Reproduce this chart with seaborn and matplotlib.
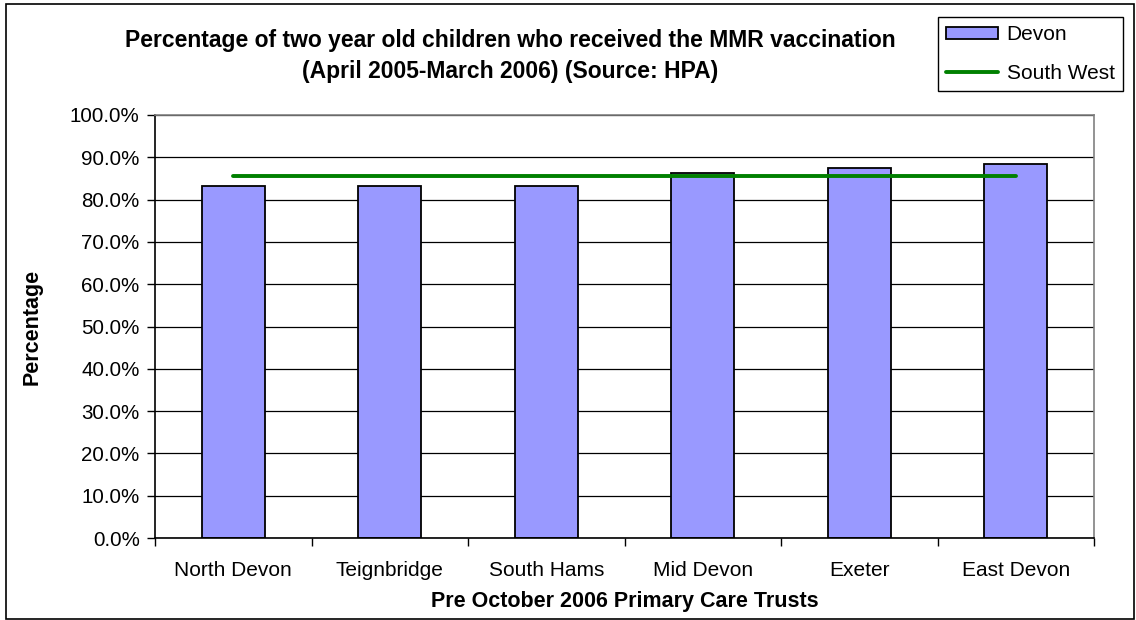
import matplotlib.pyplot as plt
import seaborn as sns
from matplotlib.ticker import PercentFormatter, FixedLocator
from matplotlib.patches import Rectangle

# values
trusts = ["North Devon", "Teignbridge", "South Hams", "Mid Devon", "Exeter", "East Devon"]
devon = [83.3, 83.3, 83.2, 86.2, 87.5, 88.5]
south_west = [85.6, 85.6, 85.6, 85.6, 85.6, 85.6]
y_ticks = [0, 10, 20, 30, 40, 50, 60, 70, 80, 90, 100]

sns.set_style("white")
plt.rcParams['font.family'] = ['Liberation Sans', 'DejaVu Sans']
plt.rcParams['text.color'] = 'black'
plt.rcParams['axes.labelcolor'] = 'black'
plt.rcParams['xtick.color'] = 'black'
plt.rcParams['ytick.color'] = 'black'

W, H = 1136, 620
fig = plt.figure(figsize=(W / 100, H / 100), dpi=100)
ax = fig.add_axes([155 / W, 1 - 538 / H, (1094 - 155) / W, (538 - 115) / H])

ax.set_axisbelow(True)
ax.yaxis.grid(True, color='black', linewidth=0.9)

sns.barplot(x=trusts, y=devon, color='#9999FF', edgecolor='black', linewidth=1.3,
            width=0.4, saturation=1, label='Devon', ax=ax)
sns.lineplot(x=list(range(len(trusts))), y=south_west, color='#008000', linewidth=2.8,
             label='South West', ax=ax)

ax.set_xlim(-0.5, len(trusts) - 0.5)
ax.set_ylim(0, 100)
ax.yaxis.set_major_locator(FixedLocator(y_ticks))
ax.yaxis.set_major_formatter(PercentFormatter(decimals=1))
ax.tick_params(axis='y', which='major', left=True, length=6, width=1,
               labelsize=14.8, pad=5)
ax.tick_params(axis='x', which='major', bottom=False, labelsize=15, pad=13)
ax.xaxis.set_minor_locator(FixedLocator([i - 0.5 for i in range(len(trusts) + 1)]))
ax.tick_params(axis='x', which='minor', bottom=True, length=6, width=1)

for side in ['left', 'bottom']:
    ax.spines[side].set_color('black')
    ax.spines[side].set_linewidth(1.2)
for side in ['right', 'top']:
    ax.spines[side].set_color('#808080')
    ax.spines[side].set_linewidth(1.2)

ax.set_xlabel('Pre October 2006 Primary Care Trusts', fontsize=15.5, fontweight='bold', labelpad=8)
ax.set_ylabel('Percentage', fontsize=15.5, fontweight='bold', labelpad=20)

fig.text(510 / W, 1 - 56 / H,
         'Percentage of two year old children who received the MMR vaccination\n'
         '(April 2005-March 2006) (Source: HPA)',
         ha='center', va='center', fontsize=16.5, fontweight='bold', linespacing=1.45)

ax.get_legend().remove()
handles, labels = ax.get_legend_handles_labels()
order = [labels.index('Devon'), labels.index('South West')]
fig.legend([handles[i] for i in order], [labels[i] for i in order],
           loc='upper right', bbox_to_anchor=(1123 / W, 1 - 17 / H),
           frameon=True, fancybox=False, edgecolor='black', framealpha=1,
           fontsize=15, handlelength=2.5, handleheight=0.55, borderpad=0.4,
           labelspacing=0.95, handletextpad=0.4, borderaxespad=0)

fig.patches.append(Rectangle((6 / W, 1 / H), 1128 / W, 615 / H, transform=fig.transFigure,
                             fill=False, edgecolor='black', linewidth=1.2))

fig.savefig('out.png', dpi=100)
